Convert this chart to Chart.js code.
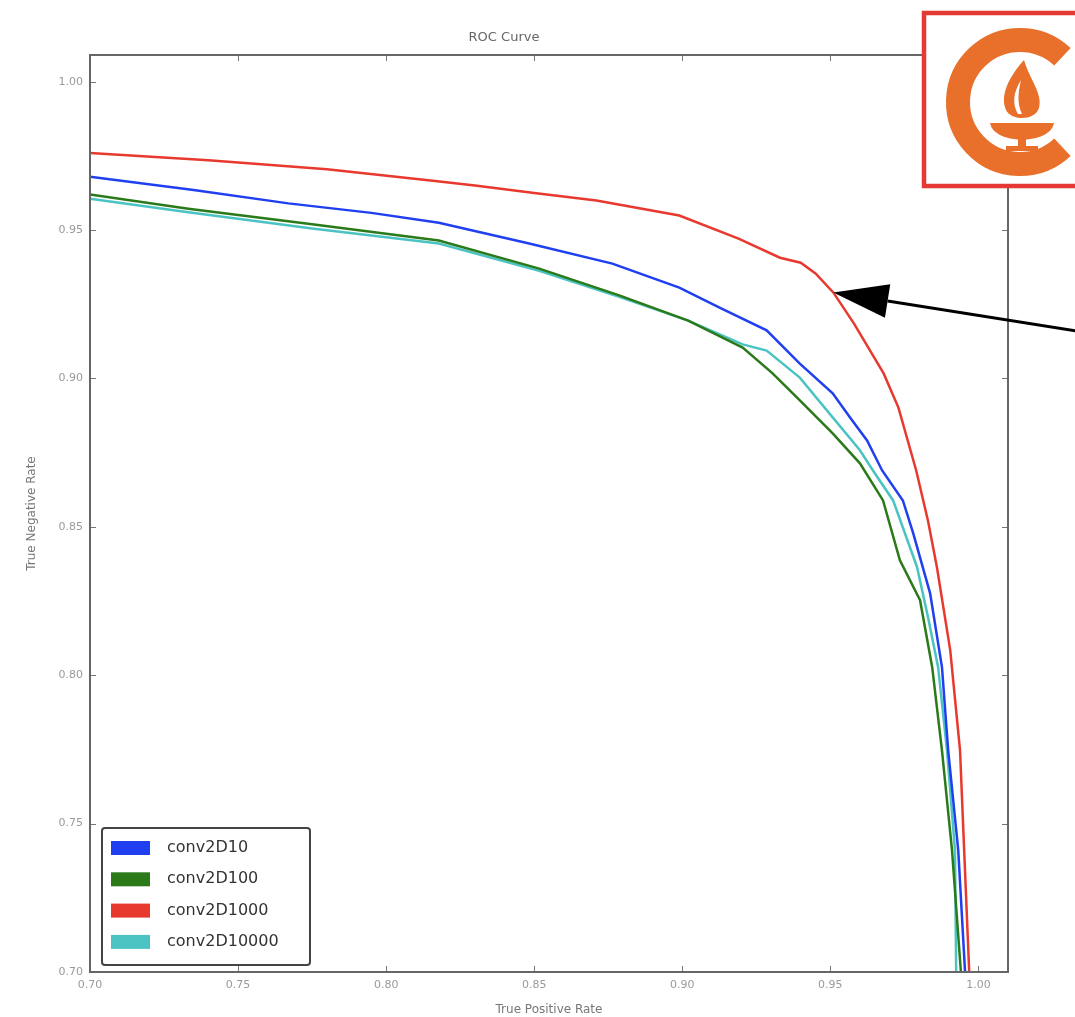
<!DOCTYPE html>
<html>
<head>
<meta charset="utf-8">
<script src="https://cdn.jsdelivr.net/npm/chart.js@4/dist/chart.umd.min.js"></script>
<style>
  html, body { margin: 0; padding: 0; background: #fff; }
  #roc { display: block; }
</style>
</head>
<body>
<canvas id="roc" width="1075" height="1017"></canvas>
<script>
// tick labels
const tickValues = [0.70, 0.75, 0.80, 0.85, 0.90, 0.95, 1.00];

// series names
const seriesNames = ['conv2D10', 'conv2D100', 'conv2D1000', 'conv2D10000'];

// conv2D10 (blue)
const blueX = [0.700, 0.735, 0.767, 0.795, 0.8178, 0.8483, 0.8764, 0.899, 0.9126, 0.9285, 0.9397, 0.9508, 0.9566, 0.9624, 0.9675, 0.9745, 0.978, 0.9837, 0.9877, 0.9898, 0.9932, 0.9955];
const blueY = [0.968, 0.9635, 0.959, 0.9558, 0.9525, 0.9455, 0.9387, 0.9306, 0.9239, 0.9162, 0.905, 0.895, 0.8869, 0.8791, 0.869, 0.8589, 0.8478, 0.8276, 0.8027, 0.7747, 0.741, 0.700];

// conv2D100 (green)
const greenX = [0.700, 0.7332, 0.775, 0.8178, 0.8517, 0.8787, 0.902, 0.9204, 0.9305, 0.9397, 0.9508, 0.960, 0.9678, 0.9735, 0.9803, 0.9844, 0.9877, 0.9911, 0.9941];
const greenY = [0.962, 0.9572, 0.952, 0.9465, 0.937, 0.928, 0.9195, 0.9104, 0.9017, 0.8926, 0.8815, 0.8714, 0.8589, 0.8387, 0.8253, 0.8027, 0.7747, 0.741, 0.700];

// conv2D1000 (red)
const redX = [0.700, 0.740, 0.780, 0.815, 0.830, 0.850, 0.871, 0.899, 0.919, 0.933, 0.940, 0.945, 0.951, 0.958, 0.968, 0.973, 0.979, 0.983, 0.986, 0.9905, 0.9938, 0.9952, 0.9969];
const redY = [0.976, 0.9735, 0.9705, 0.9667, 0.965, 0.9625, 0.960, 0.9549, 0.9471, 0.9407, 0.939, 0.9354, 0.929, 0.9185, 0.9017, 0.8902, 0.869, 0.852, 0.8364, 0.8084, 0.7747, 0.741, 0.700];

// conv2D10000 (cyan)
const cyanX = [0.700, 0.7332, 0.775, 0.8178, 0.8517, 0.8787, 0.902, 0.9204, 0.9285, 0.9397, 0.9508, 0.960, 0.9644, 0.9712, 0.9793, 0.983, 0.9864, 0.9894, 0.9921, 0.9925];
const cyanY = [0.9606, 0.956, 0.9505, 0.9455, 0.9363, 0.9275, 0.9195, 0.9115, 0.9094, 0.9003, 0.8869, 0.8758, 0.869, 0.8589, 0.8364, 0.8195, 0.8027, 0.7747, 0.741, 0.700];

// point the arrow is aimed at (on the red curve)
const arrowTarget = { x: 0.951, y: 0.929 };

const colors = ['#1f3ff0', '#2b7a1a', '#e8392f', '#4cc3c3'];
const FONT = "'DejaVu Sans', sans-serif";

function zip(xs, ys) {
	return xs.map((x, i) => ({ x: x, y: ys[i] }));
}

const seriesData = [zip(blueX, blueY), zip(greenX, greenY), zip(redX, redY), zip(cyanX, cyanY)];

const datasets = seriesNames.map((name, i) => ({
	label: name,
	data: seriesData[i],
	borderColor: colors[i],
	backgroundColor: colors[i],
	borderWidth: 2.5,
	pointRadius: 0,
	tension: 0,
	fill: false
}));

// frame, inward ticks, legend box, arrow and logo
const decorations = {
	id: 'decorations',
	afterDatasetsDraw(chart) {
		const { ctx, chartArea: a, scales } = chart;
		const xs = scales.x, ys = scales.y;
		ctx.save();

		// inward ticks on all four sides
		ctx.strokeStyle = '#777';
		ctx.lineWidth = 1;
		tickValues.forEach((v) => {
			const px = Math.round(xs.getPixelForValue(v)) + 0.5;
			const py = Math.round(ys.getPixelForValue(v)) + 0.5;
			ctx.beginPath();
			ctx.moveTo(px, a.bottom); ctx.lineTo(px, a.bottom - 6);
			ctx.moveTo(px, a.top); ctx.lineTo(px, a.top + 6);
			ctx.moveTo(a.left, py); ctx.lineTo(a.left + 6, py);
			ctx.moveTo(a.right, py); ctx.lineTo(a.right - 6, py);
			ctx.stroke();
		});

		// frame
		ctx.strokeStyle = '#666';
		ctx.lineWidth = 2;
		ctx.strokeRect(a.left, a.top, a.right - a.left, a.bottom - a.top);

		// legend
		const lx = 102, ly = 828, lw = 208, lh = 137;
		ctx.fillStyle = '#fff';
		ctx.fillRect(lx, ly, lw, lh);
		ctx.strokeStyle = '#444';
		ctx.lineWidth = 2;
		ctx.beginPath();
		ctx.roundRect(lx, ly, lw, lh, 3);
		ctx.stroke();
		ctx.font = '16px ' + FONT;
		ctx.textBaseline = 'middle';
		ctx.textAlign = 'left';
		seriesNames.forEach((name, i) => {
			const cy = 848 + i * 31.3;
			ctx.fillStyle = colors[i];
			ctx.fillRect(111, cy - 7, 39, 14);
			ctx.fillStyle = '#333';
			ctx.fillText(name, 167, cy);
		});

		// arrow
		const tipX = xs.getPixelForValue(arrowTarget.x);
		const tipY = ys.getPixelForValue(arrowTarget.y);
		const tailX = 1080, tailY = tipY + 38 * (1080 - tipX) / 240;
		const len = Math.hypot(tailX - tipX, tailY - tipY);
		const ux = (tailX - tipX) / len, uy = (tailY - tipY) / len;
		const headL = 55, headW = 17;
		const bx = tipX + ux * headL, by = tipY + uy * headL;
		ctx.strokeStyle = '#000';
		ctx.lineWidth = 3;
		ctx.beginPath();
		ctx.moveTo(bx, by);
		ctx.lineTo(tailX, tailY);
		ctx.stroke();
		ctx.fillStyle = '#000';
		ctx.beginPath();
		ctx.moveTo(tipX, tipY);
		ctx.lineTo(bx - uy * headW, by + ux * headW);
		ctx.lineTo(bx + uy * headW, by - ux * headW);
		ctx.closePath();
		ctx.fill();

		// logo box
		ctx.fillStyle = '#fff';
		ctx.fillRect(924, 13, 160, 173);
		ctx.strokeStyle = '#e53935';
		ctx.lineWidth = 4.5;
		ctx.strokeRect(924, 13, 160, 173);

		// C shape
		const cx = 1020, cyL = 102;
		ctx.strokeStyle = '#e8702a';
		ctx.lineWidth = 24;
		ctx.lineCap = 'butt';
		ctx.beginPath();
		ctx.arc(cx, cyL, 62, Math.PI * 0.26, Math.PI * 1.74);
		ctx.stroke();

		// flame
		ctx.fillStyle = '#e8702a';
		ctx.beginPath();
		ctx.moveTo(1024, 60);
		ctx.bezierCurveTo(1008, 78, 1000, 96, 1006, 110);
		ctx.bezierCurveTo(1011, 121, 1035, 121, 1039, 108);
		ctx.bezierCurveTo(1043, 94, 1030, 80, 1024, 60);
		ctx.fill();
		ctx.fillStyle = '#fff';
		ctx.beginPath();
		ctx.moveTo(1021, 80);
		ctx.bezierCurveTo(1013, 93, 1012, 104, 1018, 114);
		ctx.lineTo(1022, 114);
		ctx.bezierCurveTo(1017, 103, 1018, 93, 1021, 80);
		ctx.fill();

		// cup
		ctx.fillStyle = '#e8702a';
		ctx.beginPath();
		ctx.moveTo(990, 123);
		ctx.lineTo(1054, 123);
		ctx.quadraticCurveTo(1051, 138, 1022, 140);
		ctx.quadraticCurveTo(993, 138, 990, 123);
		ctx.fill();
		ctx.fillRect(1018, 139, 8, 8);
		ctx.fillRect(1006, 146, 32, 5);

		ctx.restore();
	}
};

const tickCommon = {
	color: '#9a9a9a',
	font: { size: 11, family: FONT },
	padding: 7,
	autoSkip: false,
	maxRotation: 0,
	callback: (v) => Number(v).toFixed(2)
};

new Chart(document.getElementById('roc'), {
	type: 'line',
	data: { datasets: datasets },
	options: {
		responsive: false,
		animation: false,
		layout: { padding: { left: 0, right: 67, top: 0, bottom: 0 } },
		plugins: {
			legend: { display: false },
			tooltip: { enabled: false },
			title: {
				display: true,
				text: 'ROC Curve',
				color: '#666',
				font: { size: 13, family: FONT, weight: 'normal' },
				padding: { top: 30, bottom: 9.4 }
			}
		},
		scales: {
			x: {
				type: 'linear',
				min: 0.70,
				max: 1.01,
				grid: { display: false, drawTicks: false },
				border: { display: false },
				ticks: tickCommon,
				afterBuildTicks: (s) => { s.ticks = tickValues.map((v) => ({ value: v })); },
				afterFit: (s) => { s.height = 45; },
				title: {
					display: true,
					text: 'True Positive Rate',
					color: '#777',
					font: { size: 12, family: FONT },
					padding: { top: 0, bottom: 0 }
				}
			},
			y: {
				type: 'linear',
				min: 0.70,
				max: 1.009,
				grid: { display: false, drawTicks: false },
				border: { display: false },
				ticks: tickCommon,
				afterBuildTicks: (s) => { s.ticks = tickValues.map((v) => ({ value: v })); },
				afterFit: (s) => { s.width = 90; },
				title: {
					display: true,
					text: 'True Negative Rate',
					color: '#777',
					font: { size: 12, family: FONT },
					padding: { top: 25, bottom: 0 }
				}
			}
		}
	},
	plugins: [decorations]
});
</script>
</body>
</html>
